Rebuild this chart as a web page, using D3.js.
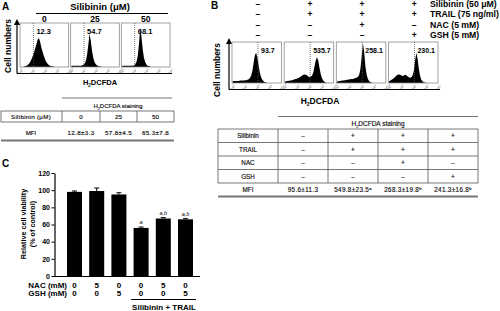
<!DOCTYPE html>
<html>
<head>
<meta charset="utf-8">
<script src="https://cdn.jsdelivr.net/npm/d3@7"></script>
<style>
body {margin: 0; background: #fff;}
svg {display: block;}
text {font-family: "Liberation Sans", Arial, sans-serif;}
.tbl {opacity: 0.999;}
.tbl text {stroke: #000; stroke-width: 0.15; fill: #111;}
</style>
</head>
<body>
<div id="chart-area"></div>
<script>

// ---- data ----

// panel A: silibinin dose
let doseLabels = ["0", "25", "50"];
let doseGateValues = ["12.3", "54.7", "68.1"];
let doseMFI = ["12.8±3.3", "57.8±4.5", "65.3±7.8"];
// histogram heights (% of box), 40 bins of 0.1 decade each
let histA = [
	[0,0,0,1, 2,3,5,8, 12,18,25,33, 42,52,62,66, 58,45,35,26, 18,12,8,5, 3,2,1,1, 0,0,0,0, 0,0,0,0, 0,0,0,0],
	[2,3,3,3, 3,3,3,3, 3,4,5,8, 14,28,50,75, 60,38,22,12, 7,4,2,1, 1,0,0,0, 0,0,0,0, 0,0,0,0, 0,0,0,0],
	[2,3,3,3, 3,3,3,3, 3,3,4,6, 12,25,52,88, 70,42,22,12, 6,3,2,1, 0,0,0,0, 0,0,0,0, 0,0,0,0, 0,0,0,0]
];

// panel B: combination treatment
let treatNames = ["Silibinin (50 μM)", "TRAIL (75 ng/ml)", "NAC (5 mM)", "GSH (5 mM)"];
let treatSigns = [
	["–", "+", "+", "+"],
	["–", "+", "+", "+"],
	["–", "–", "+", "–"],
	["–", "–", "–", "+"]
];
let comboGateValues = ["93.7", "535.7", "258.1", "230.1"];
let histB = [
	[4,5,5,5, 5,5,6,6, 6,6,7,7, 8,9,12,18, 30,50,68,73, 62,42,25,14, 8,4,2,1, 0,0,0,0, 0,0,0,0, 0,0,0,0],
	[3,4,5,5, 6,6,7,8, 9,10,11,12, 14,16,18,20, 21,20,18,16, 14,15,18,25, 40,55,63,55, 38,22,12,6, 3,1,0,0, 0,0,0,0],
	[3,4,5,5, 6,6,7,7, 8,8,9,9, 10,10,11,12, 13,15,20,35, 65,97,75,40, 20,10,5,2, 1,0,0,0, 0,0,0,0, 0,0,0,0],
	[4,6,8,10, 12,15,18,20, 21,20,18,17, 18,20,19,16, 14,13,14,18, 30,55,73,60, 35,18,8,4, 2,1,0,0, 0,0,0,0, 0,0,0,0]
];
let tableNamesB = ["Silibinin", "TRAIL", "NAC", "GSH"];
let comboMFI = ["95.6±11.3", "549.8±23.5", "268.3±19.8", "241.3±16.8"];
let comboSup = ["", "a", "b", "b"];

let decadeTicks = ["10⁰", "10¹", "10²", "10³", "10⁴"];
let gateA = 1.1, gateB = 2.1;   // gate marker, in decades

// panel C: viability
let nacDose = [0, 5, 0, 0, 5, 0];
let gshDose = [0, 0, 5, 0, 0, 5];
let viability = [98, 99, 95, 56, 67, 66];
let viabilityErr = [1, 3.5, 2, 1, 1, 0.8];
let sigMarks = ["", "", "", "a", "a,b", "a,b"];
let yTicks = [0, 20, 40, 60, 80, 100, 120];


let svg = d3.select("#chart-area").append("svg")
	.attr("width", 500)
	.attr("height", 311);

svg.append("defs").append("marker")
	.attr("id", "arrow")
	.attr("viewBox", "0 0 6 6")
	.attr("refX", 3).attr("refY", 3)
	.attr("markerWidth", 5).attr("markerHeight", 5)
	.attr("orient", "auto")
	.append("path")
	.attr("d", "M0,0L6,3L0,6Z")
	.attr("fill", "#000");

function label(g, x, y, txt, size, anchor, weight) {
	return g.append("text")
		.attr("x", x).attr("y", y)
		.attr("font-size", size)
		.attr("font-weight", weight || "bold")
		.attr("text-anchor", anchor || "middle")
		.text(txt);
}

function h2dcfda(g, x, y, size) {
	let t = g.append("text")
		.attr("x", x).attr("y", y)
		.attr("font-size", size)
		.attr("font-weight", "bold")
		.attr("text-anchor", "middle");
	t.append("tspan").text("H");
	t.append("tspan").attr("font-size", size * 0.6).attr("dy", 2).text("2");
	t.append("tspan").attr("dy", -2).text("DCFDA");
	return t;
}

// flow histogram panel
function drawHists(hists, values, gate, band, top, bottom, axisY, valueSize) {
	let g = svg.append("g");
	let y = d3.scaleLinear().domain([0, 100]).range([bottom, top]);

	hists.forEach(function(h, i) {
		let x0 = band(band.domain()[i]);
		let x = d3.scaleLinear().domain([0, 4]).range([x0, x0 + band.bandwidth()]);

		let area = d3.area()
			.x((d, j) => x(j * 0.1 + 0.05))
			.y0(bottom)
			.y1(d => y(d));
		g.append("path")
			.datum(h)
			.attr("d", area)
			.attr("fill", "#000");

		g.append("rect")
			.attr("x", x(0)).attr("y", top)
			.attr("width", band.bandwidth()).attr("height", bottom - top)
			.attr("fill", "none")
			.attr("stroke", "#8a8a8a")
			.attr("stroke-width", 0.8);

		g.append("line")
			.attr("x1", x(gate)).attr("x2", x(gate))
			.attr("y1", top).attr("y2", bottom)
			.attr("stroke", "#555")
			.attr("stroke-width", 0.8)
			.attr("stroke-dasharray", "1,1");

		label(g, x(gate) + 3, top + 11, values[i], valueSize, "start");

		decadeTicks.forEach(function(t, k) {
			g.append("text")
				.attr("transform", "translate(" + (x(k) + 2) + "," + (bottom + 5) + ") rotate(-55)")
				.attr("font-size", 3.8)
				.attr("fill", "#777")
				.attr("text-anchor", "middle")
				.text(t);
		});
	});

	let r = band.range();
	g.append("line")
		.attr("x1", r[0] - 3).attr("x2", r[1] + 2)
		.attr("y1", axisY).attr("y2", axisY)
		.attr("stroke", "#000").attr("stroke-width", 1.2);
	g.append("line")
		.attr("x1", r[0] - 3).attr("x2", r[0] - 3)
		.attr("y1", axisY).attr("y2", top - 1)
		.attr("stroke", "#000").attr("stroke-width", 1.2)
		.attr("marker-end", "url(#arrow)");
	return g;
}

// ---------- Panel A ----------
let gA = svg.append("g");
label(gA, 2, 10, "A", 10, "start");
label(gA, 100, 10, "Silibinin (μM)", 9.5);
gA.append("line").attr("x1", 36).attr("x2", 168).attr("y1", 13.5).attr("y2", 13.5)
	.attr("stroke", "#000").attr("stroke-width", 1);

let bandA = d3.scaleBand().domain(doseLabels).range([20, 170]).paddingInner(0.04);
doseLabels.forEach(function(d) {
	label(gA, bandA(d) + bandA.bandwidth() / 2, 21.5, d, 8.5);
});
drawHists(histA, doseGateValues, gateA, bandA, 23, 67, 73.5, 7.5);
label(gA, 10.5, 46, "Cell numbers", 8.5).attr("transform", "rotate(-90,10.5,46)");
h2dcfda(gA, 100, 85, 7.5);

// table A
let tA = svg.append("g").attr("class", "tbl");
let colA = [62, 100, 137, 174];
tA.append("line").attr("x1", 62).attr("x2", 172).attr("y1", 98).attr("y2", 98)
	.attr("stroke", "#777").attr("stroke-width", 1);
let staA = h2dcfda(tA, 118, 107.5, 6);
staA.attr("font-weight", "normal").append("tspan").text("  staining");
tA.append("rect").attr("x", 1).attr("y", 111).attr("width", 173).attr("height", 11)
	.attr("fill", "none").attr("stroke", "#555").attr("stroke-width", 0.8);
colA.slice(0, 3).forEach(function(c) {
	tA.append("line").attr("x1", c).attr("x2", c).attr("y1", 111).attr("y2", 122)
		.attr("stroke", "#555").attr("stroke-width", 0.8);
});
tA.append("line").attr("x1", 1).attr("x2", 174).attr("y1", 140.5).attr("y2", 140.5)
	.attr("stroke", "#777").attr("stroke-width", 1.8);
label(tA, 31, 119, "Silibinin (μM)", 6.2, "middle", "normal").attr("letter-spacing", 0.3);
label(tA, 31, 135, "MFI", 6.2, "middle", "normal");
doseLabels.forEach(function(d, i) {
	let cx = (colA[i] + colA[i + 1]) / 2;
	label(tA, cx, 119, d, 6.2, "middle", "normal");
	label(tA, cx, 135, doseMFI[i], 6.2, "middle", "normal").attr("letter-spacing", 0.4);
});

// ---------- Panel B ----------
let gB = svg.append("g");
label(gB, 211, 9, "B", 10, "start");
let bandB = d3.scaleBand().domain(d3.range(4)).range([232, 438]).paddingInner(0.05);
treatNames.forEach(function(name, r) {
	let yy = 7 + r * 10.3;
	label(gB, 430, yy, name, 8.7, "start");
	treatSigns[r].forEach(function(s, c) {
		label(gB, bandB(c) + bandB.bandwidth() / 2 + 1, yy, s, 8.5);
	});
});
drawHists(histB, comboGateValues, gateB, bandB, 42, 83, 89.5, 7);
label(gB, 220, 70, "Cell numbers", 8.5).attr("transform", "rotate(-90,220,70)");
h2dcfda(gB, 320, 103.5, 8.5);

// table B
let tB = svg.append("g").attr("class", "tbl");
let colB = [218, 278, 328, 378, 428, 478];
let rowB = [129, 142.5, 156, 169.5, 183];
tB.append("line").attr("x1", 278).attr("x2", 478).attr("y1", 116.5).attr("y2", 116.5)
	.attr("stroke", "#777").attr("stroke-width", 1);
let staB = h2dcfda(tB, 378, 125.5, 6.5);
staB.attr("font-weight", "normal").append("tspan").text("  staining");
rowB.forEach(function(r) {
	tB.append("line").attr("x1", 218).attr("x2", 478).attr("y1", r).attr("y2", r)
		.attr("stroke", "#555").attr("stroke-width", 0.8);
});
colB.forEach(function(c) {
	tB.append("line").attr("x1", c).attr("x2", c).attr("y1", 129).attr("y2", 183)
		.attr("stroke", "#555").attr("stroke-width", 0.8);
});
tB.append("line").attr("x1", 218).attr("x2", 478).attr("y1", 196.5).attr("y2", 196.5)
	.attr("stroke", "#777").attr("stroke-width", 1.8);
tableNamesB.forEach(function(name, r) {
	let yy = rowB[r] + 9;
	label(tB, 248, yy, name, 6.3, "middle", "normal");
	treatSigns[r].forEach(function(s, c) {
		label(tB, (colB[c + 1] + colB[c + 2]) / 2, yy, s, 6.5, "middle", "normal");
	});
});
label(tB, 248, 192, "MFI", 6.3, "middle", "normal");
comboMFI.forEach(function(v, c) {
	let t = label(tB, (colB[c + 1] + colB[c + 2]) / 2, 192, v, 6.3, "middle", "normal")
		.attr("letter-spacing", 0.35);
	if (comboSup[c]) {
		t.append("tspan").attr("font-size", 4).attr("dy", -2.5).text(comboSup[c]);
	}
});

// ---------- Panel C ----------
let gC = svg.append("g");
label(gC, 2, 167, "C", 10, "start");

let x = d3.scaleBand().domain(d3.range(6)).range([56, 204])
	.paddingInner(0.324).paddingOuter(0.495);
let y = d3.scaleLinear().domain([0, 120]).range([276, 173]);

gC.selectAll(".bar")
	.data(viability)
	.enter()
	.append("rect")
	.attr("class", "bar")
	.attr("x", (d, i) => x(i))
	.attr("y", d => y(d))
	.attr("width", x.bandwidth())
	.attr("height", d => y(0) - y(d))
	.attr("fill", "#000");

viability.forEach(function(v, i) {
	let cx = x(i) + x.bandwidth() / 2;
	let yt = y(v + viabilityErr[i]);
	gC.append("line").attr("x1", cx).attr("x2", cx).attr("y1", y(v)).attr("y2", yt)
		.attr("stroke", "#000").attr("stroke-width", 1);
	gC.append("line").attr("x1", cx - 2.5).attr("x2", cx + 2.5).attr("y1", yt).attr("y2", yt)
		.attr("stroke", "#000").attr("stroke-width", 1);
	if (sigMarks[i]) {
		label(gC, cx, yt - 3, sigMarks[i], 5.5, "middle", "normal").attr("font-style", "italic");
	}
	label(gC, cx, 288, nacDose[i], 8);
	label(gC, cx, 296, gshDose[i], 8);
});

let yAxis = gC.append("g")
	.attr("transform", "translate(54.5,0)")
	.call(d3.axisLeft(y).tickValues(yTicks).tickSize(3).tickSizeOuter(0).tickPadding(1.5));
yAxis.selectAll("text").attr("font-size", 7).attr("font-weight", "bold").attr("fill", "#000")
	.attr("font-family", "Liberation Sans, Arial, sans-serif");
yAxis.select(".domain").attr("stroke-width", 1.2);

gC.append("line").attr("x1", 54).attr("x2", 200).attr("y1", 276.5).attr("y2", 276.5)
	.attr("stroke", "#000").attr("stroke-width", 1.2);

label(gC, 25.5, 224, "Relative cell viability", 7.2).attr("transform", "rotate(-90,25.5,224)");
label(gC, 34.5, 224, "(% of control)", 7.2).attr("transform", "rotate(-90,34.5,224)");

label(gC, 67, 288, "NAC (mM)", 8, "end");
label(gC, 67, 296, "GSH (mM)", 8, "end");
gC.append("line").attr("x1", 131).attr("x2", 196).attr("y1", 299.5).attr("y2", 299.5)
	.attr("stroke", "#000").attr("stroke-width", 1);
label(gC, 164, 309.5, "Silibinin + TRAIL", 8);

</script>
</body>
</html>
